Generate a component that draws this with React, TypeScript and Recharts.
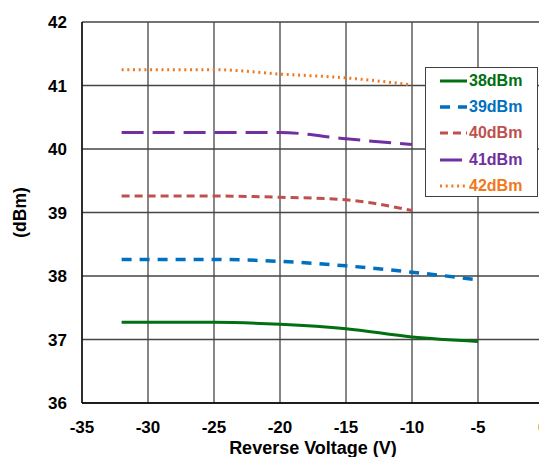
import React from 'react';
import {
  LineChart,
  Line,
  XAxis,
  YAxis,
  CartesianGrid,
} from 'recharts';

const voltage = [-32, -30, -25, -20, -15, -10, -5];
const p38 = [37.27, 37.27, 37.27, 37.24, 37.17, 37.04, 36.97];
const p39 = [38.26, 38.26, 38.26, 38.23, 38.16, 38.06, 37.94];
const p40 = [39.26, 39.26, 39.26, 39.24, 39.2, 39.03, null];
const p41 = [40.26, 40.26, 40.26, 40.26, 40.16, 40.07, null];
const p42 = [41.25, 41.25, 41.25, 41.18, 41.12, 41.01, null];

const xTicks = [-35, -30, -25, -20, -15, -10, -5, 0];
const yTicks = [36, 37, 38, 39, 40, 41, 42];

const series = [
  { key: 'p38', name: '38dBm', color: '#007010', dash: undefined, width: 3 },
  { key: 'p39', name: '39dBm', color: '#0070C0', dash: '10 8', width: 3.5 },
  { key: 'p40', name: '40dBm', color: '#C0504D', dash: '8 5', width: 3 },
  { key: 'p41', name: '41dBm', color: '#7030A0', dash: '22 9', width: 3 },
  { key: 'p42', name: '42dBm', color: '#F07820', dash: '2 3.7', width: 3 },
];

const data = voltage.map((v, i) => ({
  v,
  p38: p38[i],
  p39: p39[i],
  p40: p40[i],
  p41: p41[i],
  p42: p42[i],
}));

const font = '"Liberation Sans", Arial, sans-serif';

function LegendBox() {
  return (
    <div
      style={{
        position: 'absolute',
        left: 417,
        top: 59,
        background: '#fff',
        border: '1.3px solid #404040',
        width: 113,
        height: 130,
        boxSizing: 'border-box',
        padding: '0 0 0 14px',
        fontFamily: font,
        fontWeight: 'bold',
        fontSize: 16,
      }}
    >
      {series.map((s) => (
        <div
          key={s.key}
          style={{ display: 'flex', alignItems: 'center', height: 26.2, color: s.color }}
        >
          <svg width={27} height={10}>
            <line
              x1={0}
              y1={5}
              x2={27}
              y2={5}
              stroke={s.color}
              strokeWidth={s.width}
              strokeDasharray={s.dash}
            />
          </svg>
          <span style={{ marginLeft: 2 }}>{s.name}</span>
        </div>
      ))}
    </div>
  );
}

export default function App() {
  return (
    <div style={{ position: 'relative', width: 539, height: 449, fontFamily: font }}>
      <LineChart
        width={539}
        height={449}
        data={data}
        margin={{ top: 14, right: 3, left: 0, bottom: 0 }}
      >
        <CartesianGrid stroke="#454545" strokeWidth={1.3} />
        <XAxis
          dataKey="v"
          type="number"
          domain={[-35, 0]}
          ticks={xTicks}
          tickLine={false}
          tickMargin={12}
          height={54}
          axisLine={{ stroke: '#000', strokeWidth: 1.3 }}
          tick={{ fill: '#000', fontSize: 17, fontWeight: 'bold', fontFamily: font }}
          label={{
            value: 'Reverse Voltage (V)',
            position: 'insideBottom',
            offset: 3,
            style: { fill: '#000', fontSize: 18, fontWeight: 'bold', fontFamily: font },
          }}
        />
        <YAxis
          type="number"
          domain={[36, 42]}
          ticks={yTicks}
          tickLine={false}
          tickMargin={9}
          width={74}
          axisLine={{ stroke: '#000', strokeWidth: 1.3 }}
          tick={{ fill: '#000', fontSize: 17, fontWeight: 'bold', fontFamily: font }}
          label={{
            value: '(dBm)',
            angle: -90,
            position: 'insideLeft',
            offset: 12,
            style: {
              fill: '#000',
              fontSize: 17.5,
              fontWeight: 'bold',
              fontFamily: font,
              textAnchor: 'middle',
            },
          }}
        />
        {series.map((s) => (
          <Line
            key={s.key}
            type="monotone"
            dataKey={s.key}
            name={s.name}
            stroke={s.color}
            strokeWidth={s.width}
            strokeDasharray={s.dash}
            dot={false}
            activeDot={false}
            isAnimationActive={false}
          />
        ))}
      </LineChart>
      <LegendBox />
    </div>
  );
}
